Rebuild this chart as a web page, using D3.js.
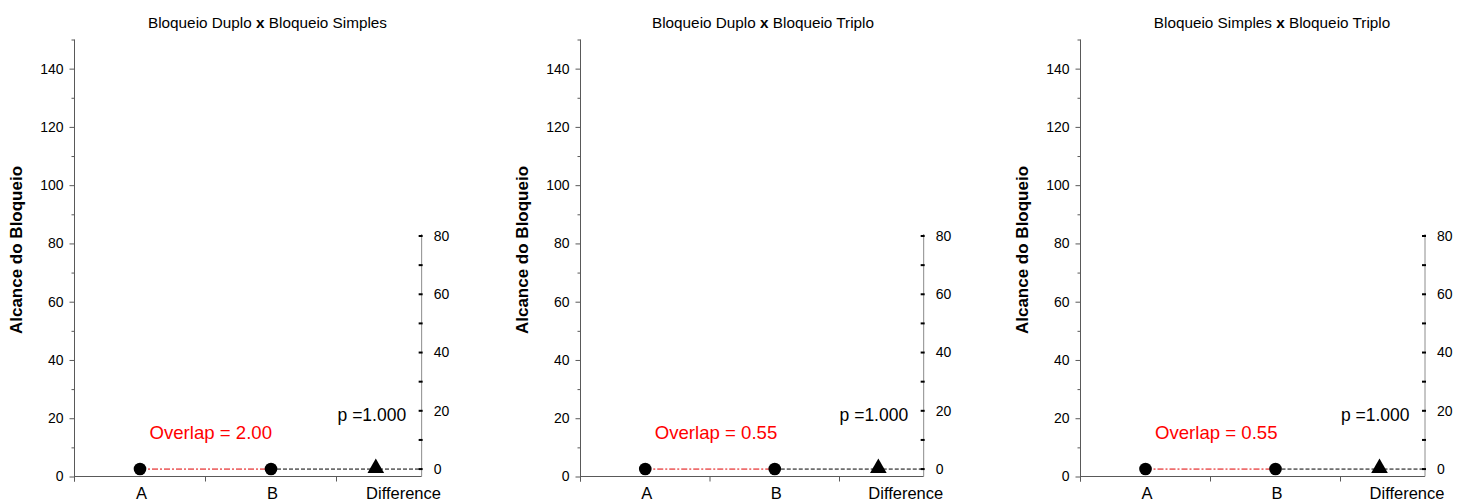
<!DOCTYPE html>
<html>
<head>
<meta charset="utf-8">
<script src="https://cdn.jsdelivr.net/npm/d3@7"></script>
<style>
  html, body { margin: 0; padding: 0; background: #fff; }
  svg { display: block; font-family: "Liberation Sans", Arial, sans-serif; }
</style>
</head>
<body>
<svg id="chart" width="1464" height="503"></svg>
<script>
// data
var titlesLeft  = ["Bloqueio Duplo", "Bloqueio Duplo", "Bloqueio Simples"];
var titlesRight = ["Bloqueio Simples", "Bloqueio Triplo", "Bloqueio Triplo"];
var categories  = ["A", "B", "Difference"];
var meanA       = [2.55, 2.55, 2.55];
var meanB       = [2.55, 2.55, 2.55];
var differences = [0, 0, 0];
var overlaps    = ["2.00", "0.55", "0.55"];
var pValues     = ["1.000", "1.000", "1.000"];
var yMajorTicks = [0, 20, 40, 60, 80, 100, 120, 140];
var yMinorTicks = [10, 30, 50, 70, 90, 110, 130, 150];
var dMajorTicks = [0, 20, 40, 60, 80];
var dMinorTicks = [10, 30, 50, 70];

// layout of each panel (left axis position, band width, title centre)
var panelLeft  = [74.5, 580.5, 1080.5];
var panelBand  = [131, 129.5, 130];
var titleX     = [267.5, 763, 1272];

var svg = d3.select("#chart");
var yTop = 39.5, yBottom = 476.5;

var y = d3.scaleLinear().domain([0, 150]).range([yBottom, yTop]);

panelLeft.forEach(function(left, i) {
  var bw = panelBand[i];
  var g = svg.append("g");

  var x = d3.scaleBand()
    .domain(categories)
    .range([left, left + 3 * bw]);

  var diffStart = x("Difference");
  var rightX = diffStart + 0.65 * bw;
  var triX = diffStart + 0.3 * bw;

  // difference axis: zero sits at the mean of A
  var yd = d3.scaleLinear()
    .domain([0, 80])
    .range([y(meanA[i]), y(meanA[i]) - (y(0) - y(80))]);

  // title
  var t = g.append("text")
    .attr("x", titleX[i])
    .attr("y", 27.5)
    .attr("text-anchor", "middle")
    .attr("font-size", "15.3px")
    .attr("fill", "#000");
  t.append("tspan").text(titlesLeft[i] + " ");
  t.append("tspan").attr("font-weight", "bold").text("x");
  t.append("tspan").text(" " + titlesRight[i]);

  // y label
  g.append("text")
    .attr("transform", "translate(" + (left - 52.5) + ",250) rotate(-90)")
    .attr("text-anchor", "middle")
    .attr("font-size", "17px")
    .attr("font-weight", "bold")
    .attr("fill", "#000")
    .text("Alcance do Bloqueio");

  // left axis
  var axisL = g.append("g")
    .attr("transform", "translate(" + left + ",0)")
    .call(d3.axisLeft(y).tickValues(yMajorTicks).tickSize(5).tickSizeOuter(0).tickPadding(6));
  axisL.select(".domain").remove();
  axisL.selectAll(".tick line").attr("stroke", "#595959");
  axisL.selectAll(".tick text")
    .attr("font-size", "14px")
    .attr("fill", "#000")
    .attr("font-family", "Liberation Sans, Arial, sans-serif");

  var axisLm = g.append("g")
    .attr("transform", "translate(" + left + ",0)")
    .call(d3.axisLeft(y).tickValues(yMinorTicks).tickSize(3).tickFormat(""));
  axisLm.select(".domain").remove();
  axisLm.selectAll(".tick line").attr("stroke", "#595959");

  g.append("line")
    .attr("x1", left).attr("x2", left)
    .attr("y1", y(150)).attr("y2", y(0) + 5)
    .attr("stroke", "#595959");

  // x axis line and boundary ticks
  g.append("line")
    .attr("x1", left).attr("x2", rightX)
    .attr("y1", y(0)).attr("y2", y(0))
    .attr("stroke", "#595959");

  g.selectAll(".xtick")
    .data(categories)
    .enter().append("line")
    .attr("class", "xtick")
    .attr("x1", function(d) { return x(d); })
    .attr("x2", function(d) { return x(d); })
    .attr("y1", y(0))
    .attr("y2", y(0) + 5)
    .attr("stroke", "#595959");

  g.selectAll(".xlabel")
    .data(categories)
    .enter().append("text")
    .attr("class", "xlabel")
    .attr("x", function(d) { return x(d) + x.bandwidth() / 2 + 1.5; })
    .attr("y", 499)
    .attr("text-anchor", "middle")
    .attr("font-size", "16.5px")
    .attr("fill", "#000")
    .text(function(d) { return d; });

  // difference axis on the right
  g.append("line")
    .attr("x1", rightX).attr("x2", rightX)
    .attr("y1", yd(80) - 2).attr("y2", y(0))
    .attr("stroke", "#8c8c8c");

  g.selectAll(".dtick")
    .data(dMajorTicks.concat(dMinorTicks))
    .enter().append("line")
    .attr("class", "dtick")
    .attr("x1", rightX - 3)
    .attr("x2", rightX + 1)
    .attr("y1", function(d) { return yd(d); })
    .attr("y2", function(d) { return yd(d); })
    .attr("stroke", "#000")
    .attr("stroke-width", 2);

  g.selectAll(".dlabel")
    .data(dMajorTicks)
    .enter().append("text")
    .attr("class", "dlabel")
    .attr("x", rightX + 12)
    .attr("y", function(d) { return yd(d); })
    .attr("dy", "0.35em")
    .attr("font-size", "14px")
    .attr("fill", "#000")
    .text(function(d) { return d; });

  var xA = x("A") + x.bandwidth() / 2,
      xB = x("B") + x.bandwidth() / 2;

  // black dashed line from B to the difference axis
  g.append("line")
    .attr("x1", xB).attr("x2", rightX)
    .attr("y1", y(meanB[i])).attr("y2", y(meanB[i]))
    .attr("stroke", "#000")
    .attr("stroke-dasharray", "4,2");

  // red dash line between A and B
  g.append("line")
    .attr("x1", xA).attr("x2", xB)
    .attr("y1", y(meanA[i])).attr("y2", y(meanA[i]))
    .attr("stroke", "#e00000")
    .attr("stroke-dasharray", "6,2,2,2");

  // group means
  g.selectAll(".mean")
    .data([{x: xA, v: meanA[i]}, {x: xB, v: meanB[i]}])
    .enter().append("circle")
    .attr("class", "mean")
    .attr("cx", function(d) { return d.x; })
    .attr("cy", function(d) { return y(d.v); })
    .attr("r", 6.3)
    .attr("fill", "#000");

  // difference point
  g.append("path")
    .attr("d", d3.symbol().type(d3.symbolTriangle).size(120))
    .attr("transform", "translate(" + triX + "," + (yd(differences[i]) - 1) + ")")
    .attr("fill", "#000");

  // annotations
  g.append("text")
    .attr("x", xA + 9.5)
    .attr("y", y(0) - 38)
    .attr("font-size", "18.6px")
    .attr("fill", "#ff0000")
    .text("Overlap = " + overlaps[i]);

  g.append("text")
    .attr("x", rightX - 15.5)
    .attr("y", y(0) - 55.5)
    .attr("text-anchor", "end")
    .attr("font-size", "17.5px")
    .attr("fill", "#000")
    .text("p =" + pValues[i]);
});
</script>
</body>
</html>
